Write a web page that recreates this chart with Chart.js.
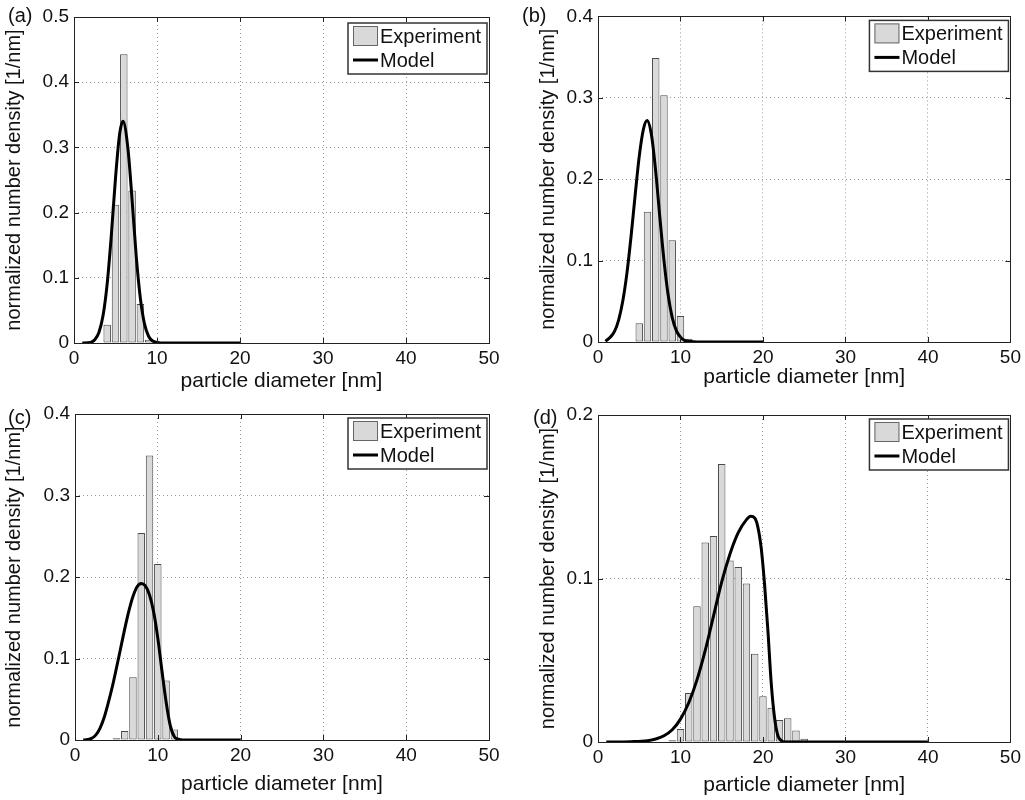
<!DOCTYPE html>
<html lang="en">
<head>
<meta charset="UTF-8">
<title>Particle size distributions</title>
<script src="https://cdn.jsdelivr.net/npm/chart.js@4.4.0/dist/chart.umd.min.js"></script>
<style>
    body { margin: 0; background: #fff; }
    #wrap { position: relative; width: 1025px; height: 800px; }
    canvas { position: absolute; }
</style>
</head>
<body>
<div id="wrap">
    <canvas id="chartA" width="512" height="395" style="left:0;top:0"></canvas>
    <canvas id="chartB" width="513" height="395" style="left:512px;top:0"></canvas>
    <canvas id="chartC" width="512" height="405" style="left:0;top:395px"></canvas>
    <canvas id="chartD" width="513" height="405" style="left:512px;top:395px"></canvas>
</div>
<script>
    // (a)
    const diamA = [4, 5, 6, 7, 8, 9];
    const expA = [0.028, 0.212, 0.443, 0.234, 0.060, 0.005];
    const modelXA = [1, 2, 2.5, 3, 3.5, 4, 4.5, 5, 5.5, 5.9, 6.5, 7, 7.5, 8, 8.5, 9, 9.5, 10, 11, 20];
    const modelYA = [0, 0.001, 0.005, 0.016, 0.042, 0.091, 0.166, 0.253, 0.321, 0.34, 0.298, 0.219, 0.133, 0.068, 0.029, 0.010, 0.003, 0.001, 0, 0];

    // (b)
    const diamB = [5, 6, 7, 8, 9, 10, 11];
    const expB = [0.023, 0.160, 0.349, 0.303, 0.125, 0.032, 0.004];
    const modelXB = [0.9, 1.5, 2, 2.5, 3, 3.5, 4, 4.5, 5, 5.5, 5.95, 6.5, 7, 7.5, 8, 8.5, 9, 9.5, 10, 10.5, 11, 12, 20];
    const modelYB = [0.001, 0.006, 0.013, 0.027, 0.050, 0.084, 0.129, 0.180, 0.228, 0.261, 0.272, 0.253, 0.209, 0.153, 0.100, 0.058, 0.030, 0.014, 0.006, 0.002, 0.001, 0, 0];

    // (c)
    const diamC = [5, 6, 7, 8, 9, 10, 11, 12];
    const expC = [0.002, 0.011, 0.077, 0.254, 0.349, 0.216, 0.073, 0.013];
    const modelXC = [1, 2, 2.5, 3, 3.5, 4, 4.5, 5, 5.5, 6, 6.5, 7, 7.5, 8, 8.5, 9, 9.5, 10, 10.5, 11, 11.5, 12, 12.5, 13, 20];
    const modelYC = [0, 0.002, 0.006, 0.014, 0.027, 0.045, 0.065, 0.088, 0.112, 0.136, 0.158, 0.176, 0.188, 0.192, 0.189, 0.178, 0.157, 0.125, 0.085, 0.047, 0.018, 0.004, 0.001, 0, 0];

    // (d)
    const diamD = [9, 10, 11, 12, 13, 14, 15, 16, 17, 18, 19, 20, 21, 22, 23, 24, 25];
    const expD = [0.001, 0.008, 0.030, 0.083, 0.122, 0.126, 0.170, 0.111, 0.107, 0.097, 0.054, 0.028, 0.021, 0.0135, 0.0145, 0.007, 0.002];
    const modelXD = [1, 4, 6, 7, 8, 9, 10, 11, 12, 13, 14, 15, 16, 17, 18, 18.5, 19, 19.4, 19.8, 20.2, 20.6, 21, 21.4, 21.8, 22.2, 22.6, 40];
    const modelYD = [0, 0.0002, 0.0008, 0.0018, 0.0038, 0.0075, 0.014, 0.024, 0.038, 0.056, 0.077, 0.098, 0.115, 0.128, 0.136, 0.138, 0.137, 0.131, 0.118, 0.096, 0.068, 0.036, 0.015, 0.004, 0.001, 0, 0];

    const xTicks = [0, 10, 20, 30, 40, 50];
    const legendLabels = ['Experiment', 'Model'];
    const xTitle = 'particle diameter [nm]';
    const yTitle = 'normalized number density [1/nm]';

    const FONT = '"Liberation Sans", Arial, Helvetica, sans-serif';
    const barFill = '#d9d9d9';
    const barEdge = '#4a4a4a';

    // frame, inward ticks, legend box and panel letter
    const framePlugin = {
        id: 'frame',
        afterDraw(chart, args, opts) {
            const ctx = chart.ctx;
            const a = chart.chartArea;
            const xs = chart.scales.x, ys = chart.scales.y;
            ctx.save();
            ctx.strokeStyle = '#222';
            ctx.lineWidth = 1;
            ctx.strokeRect(Math.round(a.left) + 0.5, Math.round(a.top) + 0.5,
                Math.round(a.right - a.left), Math.round(a.bottom - a.top));
            ctx.beginPath();
            xs.ticks.forEach(t => {
                const px = Math.round(xs.getPixelForValue(t.value)) + 0.5;
                ctx.moveTo(px, a.bottom); ctx.lineTo(px, a.bottom - 5);
                ctx.moveTo(px, a.top); ctx.lineTo(px, a.top + 5);
            });
            ys.ticks.forEach(t => {
                const py = Math.round(ys.getPixelForValue(t.value)) + 0.5;
                ctx.moveTo(a.left, py); ctx.lineTo(a.left + 5, py);
                ctx.moveTo(a.right, py); ctx.lineTo(a.right - 5, py);
            });
            ctx.stroke();

            // legend
            const R = a.right, T = a.top + opts.legendDy;
            ctx.fillStyle = '#fff';
            ctx.fillRect(R - 141, T + 4, 139, 51);
            ctx.strokeStyle = '#333';
            ctx.lineWidth = 1.5;
            ctx.strokeRect(R - 141, T + 4, 139, 51);
            ctx.fillStyle = barFill;
            ctx.fillRect(R - 136, T + 7, 25, 20);
            ctx.strokeStyle = '#666';
            ctx.lineWidth = 1;
            ctx.strokeRect(R - 135.5, T + 7.5, 24, 19);
            ctx.strokeStyle = '#000';
            ctx.lineWidth = 3;
            ctx.beginPath();
            ctx.moveTo(R - 136, T + 41); ctx.lineTo(R - 111, T + 41);
            ctx.stroke();
            ctx.fillStyle = '#111';
            ctx.font = '20px ' + FONT;
            ctx.textBaseline = 'middle';
            ctx.textAlign = 'left';
            ctx.fillText(legendLabels[0], R - 109, T + 18);
            ctx.fillText(legendLabels[1], R - 109, T + 42);

            // panel letter
            ctx.fillText(opts.letter, opts.letterX, opts.letterY);
            ctx.restore();
        }
    };

    function makePanel(id, p) {
        const canvas = document.getElementById(id);
        const W = canvas.width, H = canvas.height;
        return new Chart(canvas, {
            type: 'bar',
            data: {
                datasets: [{
                    type: 'line',
                    label: legendLabels[1],
                    data: p.modelX.map((x, i) => ({ x: x, y: p.modelY[i] })),
                    borderColor: '#000',
                    borderWidth: 3,
                    pointRadius: 0,
                    fill: false,
                    cubicInterpolationMode: 'monotone'
                }, {
                    type: 'bar',
                    label: legendLabels[0],
                    data: p.diam.map((d, i) => ({ x: d, y: p.exp[i] })),
                    backgroundColor: barFill,
                    borderColor: barEdge,
                    borderWidth: 1,
                    borderSkipped: false,
                    barPercentage: 0.9,
                    categoryPercentage: 1
                }]
            },
            options: {
                responsive: false,
                animation: false,
                events: [],
                layout: { padding: { left: 0, top: p.T, right: W - p.R, bottom: 0 } },
                plugins: {
                    legend: { display: false },
                    tooltip: { enabled: false },
                    frame: { letter: p.letter, letterX: p.letterX, letterY: p.letterY, legendDy: p.legendDy }
                },
                scales: {
                    x: {
                        type: 'linear',
                        min: 0, max: 50,
                        offset: false,
                        afterBuildTicks: s => { s.ticks = xTicks.map(v => ({ value: v })); },
                        ticks: { padding: p.xTickPad, maxRotation: 0, color: '#111', font: { family: FONT, size: 19 } },
                        grid: { color: '#999', drawTicks: false, offset: false },
                        border: { display: false, dash: [1, 3] },
                        title: { display: true, text: xTitle, color: '#111', padding: { top: 0, bottom: p.xTitlePad }, font: { family: FONT, size: 21 } },
                        afterFit: s => { s.height = H - p.B; }
                    },
                    y: {
                        min: 0, max: p.yMax,
                        ticks: {
                            stepSize: 0.1, padding: 5, color: '#111',
                            font: { family: FONT, size: 19 },
                            callback: v => v === 0 ? '0' : v.toFixed(1)
                        },
                        grid: { color: '#999', drawTicks: false },
                        border: { display: false, dash: [1, 3] },
                        title: { display: true, text: yTitle, color: '#111', padding: { top: p.yTitlePad, bottom: 0 }, font: { family: FONT, size: 20 } },
                        afterFit: s => { s.width = p.L; }
                    }
                }
            },
            plugins: [framePlugin]
        });
    }

    makePanel('chartA', { diam: diamA, exp: expA, modelX: modelXA, modelY: modelYA, yMax: 0.5,
        L: 74, T: 17, R: 489, B: 343, xTickPad: 4, xTitlePad: 1, yTitlePad: 2,
        letter: '(a)', letterX: 8, letterY: 16, legendDy: 2 });
    makePanel('chartB', { diam: diamB, exp: expB, modelX: modelXB, modelY: modelYB, yMax: 0.4,
        L: 86, T: 16, R: 500, B: 342, xTickPad: 4, xTitlePad: 5, yTitlePad: 24,
        letter: '(b)', letterX: 10, letterY: 16, legendDy: 0 });
    makePanel('chartC', { diam: diamC, exp: expC, modelX: modelXC, modelY: modelYC, yMax: 0.4,
        L: 75, T: 19, R: 489, B: 345, xTickPad: 4, xTitlePad: 3, yTitlePad: 2,
        letter: '(c)', letterX: 8, letterY: 23, legendDy: 0 });
    makePanel('chartD', { diam: diamD, exp: expD, modelX: modelXD, modelY: modelYD, yMax: 0.2,
        L: 86, T: 20, R: 500, B: 347, xTickPad: 4, xTitlePad: 2, yTitlePad: 24,
        letter: '(d)', letterX: 21, letterY: 23, legendDy: 0 });
</script>
</body>
</html>
